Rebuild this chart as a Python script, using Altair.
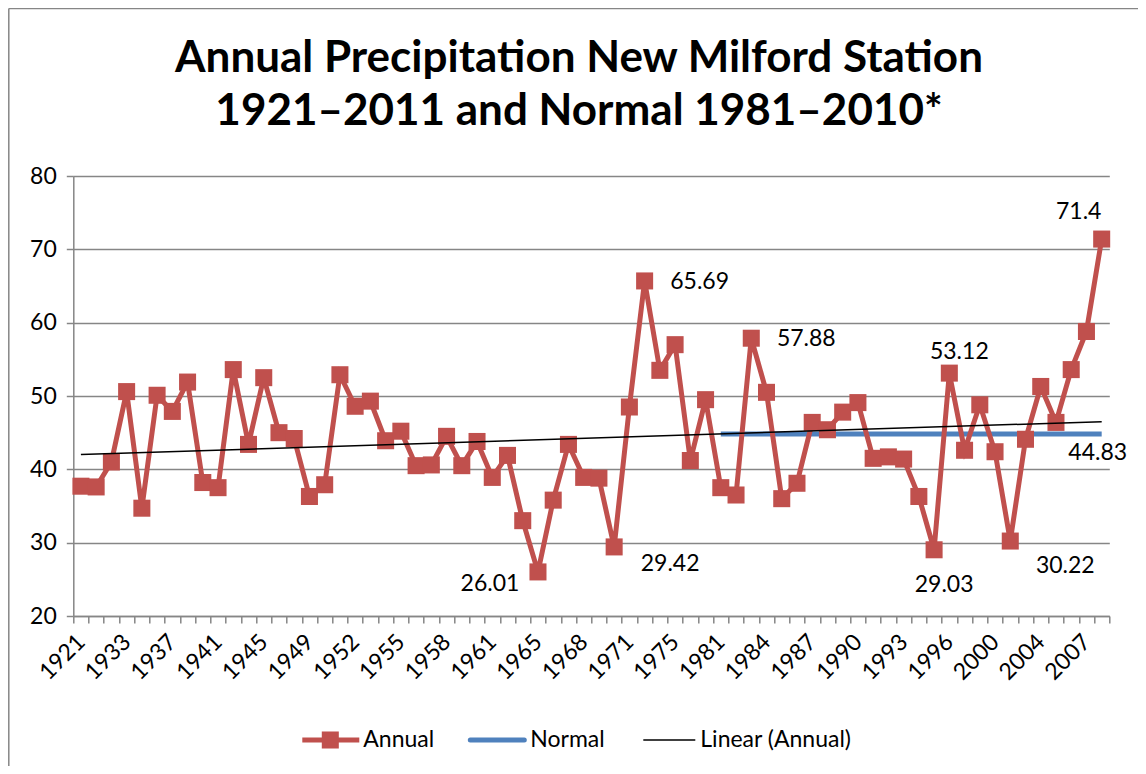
import altair as alt
import pandas as pd

# ---------------- data ----------------
title_lines = ["Annual Precipitation New Milford Station", "1921\u20132011 and Normal 1981\u20132010*"]

years = ["1921", "1931", "1932", "1933", "1934", "1936", "1937", "1938", "1940", "1941",
         "1942", "1944", "1945", "1946", "1947", "1949", "1950", "1951", "1952", "1953",
         "1954", "1955", "1956", "1957", "1958", "1959", "1960", "1961", "1962", "1964",
         "1965", "1966", "1967", "1968", "1969", "1970", "1971", "1972", "1974", "1975",
         "1978", "1980", "1981", "1982", "1983", "1984", "1985", "1986", "1987", "1988",
         "1989", "1990", "1991", "1992", "1993", "1994", "1995", "1996", "1997", "1998",
         "2000", "2001", "2003", "2004", "2005", "2006", "2007", "2011"]

annual = [37.7, 37.6, 41.0, 50.6, 34.7, 50.1, 47.9, 51.9, 38.2, 37.5,
          53.6, 43.4, 52.5, 45.0, 44.2, 36.3, 37.9, 52.9, 48.6, 49.3,
          43.9, 45.2, 40.5, 40.6, 44.5, 40.5, 43.8, 38.9, 41.9, 33.0,
          26.01, 35.8, 43.4, 38.9, 38.8, 29.42, 48.5, 65.69, 53.5, 57.0,
          41.2, 49.5, 37.5, 36.5, 57.88, 50.5, 36.0, 38.1, 46.4, 45.4,
          47.8, 49.1, 41.5, 41.7, 41.4, 36.3, 29.03, 53.12, 42.6, 48.8,
          42.4, 30.22, 44.1, 51.3, 46.4, 53.6, 58.8, 71.4]

normal_value = 44.83
normal_from_year = "1981"

labelled_years = ["1965", "1970", "1972", "1983", "1995", "1996", "2001", "2011"]
y_ticks = [20, 30, 40, 50, 60, 70, 80]

# ---------------- tables ----------------
n = len(years)
df = pd.DataFrame({"idx": list(range(n)), "year": years, "value": annual})
start = years.index(normal_from_year)
df_norm = pd.DataFrame({"idx": list(range(start, n)), "year": years[start:],
                        "value": [normal_value] * (n - start)})

RED = "#C0504D"
BLUE = "#4F81BD"
GRID = "#868686"
FONT = "Lato"
FS = 23

W, H = 1036, 440
step = W / n

boundaries = [i - 0.5 for i in range(n + 1)]
arr = "[" + ",".join("'" + y + "'" for y in years) + "]"
label_expr = ("((datum.value + 0.5) % 3 == 0 && datum.value < " + str(n - 1) + ") ? "
              + arr + "[datum.value + 0.5] : ''")

x_enc = alt.X("idx:Q",
              scale=alt.Scale(domain=[-0.5, n - 0.5], nice=False, zero=False),
              axis=alt.Axis(values=boundaries, labelExpr=label_expr, labelOffset=step / 2,
                            labelAngle=-45, labelAlign="right", labelBaseline="middle",
                            labelOverlap=False, labelFlush=False, labelBound=False,
                            labelFontSize=FS, labelPadding=15, labelColor="black",
                            tickSize=7, tickWidth=1.5, tickColor=GRID,
                            domainColor=GRID, domainWidth=1.5, grid=False, title=None))
y_enc = alt.Y("value:Q",
              scale=alt.Scale(domain=[20, 80], nice=False, zero=False),
              axis=alt.Axis(values=y_ticks, labelFontSize=FS, labelPadding=10, labelColor="black",
                            tickSize=7, tickWidth=1.5, tickColor=GRID,
                            domainColor=GRID, domainWidth=1.5,
                            grid=True, gridColor=GRID, gridWidth=1.5, title=None))

base = alt.Chart(df)

normal_line = alt.Chart(df_norm).mark_line(color=BLUE, strokeWidth=5).encode(x=x_enc, y=y_enc)
annual_line = base.mark_line(color=RED, strokeWidth=5).encode(x=x_enc, y=y_enc)
annual_pts = base.mark_square(color=RED, size=290, opacity=1).encode(x=x_enc, y=y_enc)
trend = base.transform_regression("idx", "value").mark_line(
    color="black", strokeWidth=1.5).encode(x=x_enc, y=y_enc)

# data labels: (year, dx, dy)
label_offsets = {"1965": (-48, 12), "1970": (56, 17), "1972": (55, 1), "1983": (55, 1),
                 "1995": (10, 35), "1996": (10, -21), "2001": (55, 25), "2011": (-23, -27)}
label_layers = []
for yv in labelled_years:
    dx, dy = label_offsets[yv]
    label_layers.append(
        base.transform_filter(alt.datum.year == yv).mark_text(
            dx=dx, dy=dy, fontSize=FS, font=FONT, color="black", align="center", baseline="middle"
        ).encode(x=x_enc, y=y_enc, text=alt.Text("value:Q"))
    )
norm_label = alt.Chart(df_norm).transform_filter(alt.datum.year == years[-1]).mark_text(
    dx=-4, dy=19, fontSize=FS, font=FONT, color="black", align="center", baseline="middle"
).encode(x=x_enc, y=y_enc, text=alt.Text("value:Q"))

# decorations: title, legend, chart-area border (pixel positions relative to plot area)
leg = alt.Chart(pd.DataFrame({"k": [0]}))
LY = 564
TX = 505.7
deco_layers = [
    leg.mark_text(align="center", baseline="alphabetic", fontSize=44, fontWeight="bold",
                  font=FONT, color="black").encode(
        x=alt.value(TX), y=alt.value(-104.3), text=alt.value(title_lines[0])),
    leg.mark_text(align="center", baseline="alphabetic", fontSize=44, fontWeight="bold",
                  font=FONT, color="black").encode(
        x=alt.value(TX), y=alt.value(-51), text=alt.value(title_lines[1])),
    leg.mark_rule(color=RED, strokeWidth=5).encode(x=alt.value(229), x2=alt.value(286), y=alt.value(LY)),
    leg.mark_square(color=RED, size=290, opacity=1).encode(x=alt.value(257), y=alt.value(LY)),
    leg.mark_text(align="left", baseline="middle", fontSize=FS, font=FONT, color="black").encode(
        x=alt.value(290), y=alt.value(LY), text=alt.value("Annual")),
    leg.mark_rule(color=BLUE, strokeWidth=5, strokeCap="round").encode(x=alt.value(397), x2=alt.value(451), y=alt.value(LY)),
    leg.mark_text(align="left", baseline="middle", fontSize=FS, font=FONT, color="black").encode(
        x=alt.value(457), y=alt.value(LY), text=alt.value("Normal")),
    leg.mark_rule(color="black", strokeWidth=1.5).encode(x=alt.value(570), x2=alt.value(622), y=alt.value(LY)),
    leg.mark_text(align="left", baseline="middle", fontSize=FS, font=FONT, color="black").encode(
        x=alt.value(627), y=alt.value(LY), text=alt.value("Linear (Annual)")),
    leg.mark_rule(color=GRID, strokeWidth=1.5).encode(x=alt.value(-64.5), y=alt.value(-167.5), y2=alt.value(600)),
    leg.mark_rule(color=GRID, strokeWidth=1.5).encode(x=alt.value(-64.5), x2=alt.value(1100), y=alt.value(-167.5)),
]

chart = alt.layer(
    normal_line, annual_line, annual_pts, trend, *label_layers, norm_label, *deco_layers
).properties(
    width=W, height=H,
    autosize=alt.AutoSizeParams(type="none"),
    padding={"left": 65.3, "top": 168, "right": 28.7, "bottom": 150},
).configure(font=FONT).configure_view(stroke=None)

chart.save("out.html", embed_options={"renderer": "svg", "actions": False})
